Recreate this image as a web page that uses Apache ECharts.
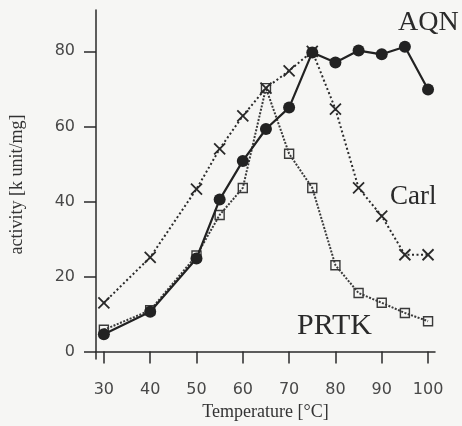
<!DOCTYPE html>
<html>
<head>
<meta charset="utf-8">
<script src="https://cdn.jsdelivr.net/npm/echarts@6/dist/echarts.min.js"></script>
<style>
html,body{margin:0;padding:0;background:#f6f6f4;}
#c{width:462px;height:426px;}
</style>
</head>
<body>
<div id="c"></div>
<script>
var temperatures = [30, 40, 50, 55, 60, 65, 70, 75, 80, 85, 90, 95, 100];
var aqn  = [4.6, 10.6, 24.8, 40.5, 50.8, 59.3, 65.0, 79.7, 77.0, 80.2, 79.2, 81.2, 69.8];
var carl = [13.0, 25.1, 43.3, 54.0, 62.8, 70.2, 74.8, 80.0, 64.6, 43.6, 36.1, 25.8, 25.8];
var prtk = [5.8, 11.0, 25.6, 36.4, 43.6, 70.2, 52.7, 43.6, 23.0, 15.6, 13.0, 10.3, 8.1];
var xTicks = [30, 40, 50, 60, 70, 80, 90, 100];
var yTicks = [0, 20, 40, 60, 80];
var seriesNames = ['AQN', 'Carl', 'PRTK'];

function pairs(arr){ return temperatures.map(function(t,i){ return [t, arr[i]]; }); }

var ink = '#2a2a2a';
var chart = echarts.init(document.getElementById('c'), null, {renderer:'canvas'});
chart.setOption({
  backgroundColor: '#f6f6f4',
  animation: false,
  grid: {left: 86, top: 10, right: 27, bottom: 64, containLabel: false},
  xAxis: {
    type: 'value', min: 28.3, max: 101.5,
    name: 'Temperature [°C]', nameLocation: 'middle', nameGap: 34,
    nameTextStyle: {fontFamily: 'Liberation Serif', fontSize: 18, color: '#333'},
    axisLine: {lineStyle: {color: ink, width: 1.5}},
    axisTick: {show: true, length: 12, lineStyle: {color: ink, width: 1.5}, customValues: xTicks},
    axisLabel: {customValues: xTicks, margin: 23, fontFamily: 'DejaVu Sans', fontSize: 16, color: '#484848'},
    splitLine: {show: false}
  },
  yAxis: {
    type: 'value', min: -2, max: 91,
    name: 'activity [k unit/mg]', nameLocation: 'middle', nameGap: 70, nameRotate: 90,
    nameTextStyle: {fontFamily: 'Liberation Serif', fontSize: 18, color: '#333'},
    axisLine: {show: true, lineStyle: {color: ink, width: 1.5}},
    axisTick: {show: true, length: 12, lineStyle: {color: ink, width: 1.5}, customValues: yTicks},
    axisLabel: {customValues: yTicks, margin: 21, fontFamily: 'DejaVu Sans', fontSize: 16, color: '#484848'},
    splitLine: {show: false}
  },
  series: [
    {
      name: seriesNames[2], type: 'line', data: pairs(prtk), z: 2,
      symbol: 'rect', symbolSize: 9,
      itemStyle: {color: 'rgba(0,0,0,0)', borderColor: '#3a3a3a', borderWidth: 1.4},
      lineStyle: {color: '#3a3a3a', width: 2, type: [2, 1.5]}
    },
    {
      name: seriesNames[1], type: 'line', data: pairs(carl), z: 3,
      symbol: 'path://M0,0L10,10M10,0L0,10', symbolSize: 11,
      itemStyle: {color: 'rgba(0,0,0,0)', borderColor: '#2a2a2a', borderWidth: 1.8},
      lineStyle: {color: '#2a2a2a', width: 2, type: [2, 2.5]}
    },
    {
      name: seriesNames[0], type: 'line', data: pairs(aqn), z: 4,
      symbol: 'circle', symbolSize: 12,
      itemStyle: {color: '#222', borderColor: '#222', borderWidth: 0},
      lineStyle: {color: '#222', width: 2.2, type: 'solid'}
    }
  ],
  graphic: [
    {type: 'text', left: 398, top: 9, style: {text: seriesNames[0], font: '28px "Liberation Serif"', fill: '#2a2a2a'}},
    {type: 'text', left: 390, top: 183, style: {text: seriesNames[1], font: '27px "Liberation Serif"', fill: '#2a2a2a'}},
    {type: 'text', left: 297, top: 311, style: {text: seriesNames[2], font: '30px "Liberation Serif"', fill: '#2a2a2a'}}
  ]
});
</script>
</body>
</html>
